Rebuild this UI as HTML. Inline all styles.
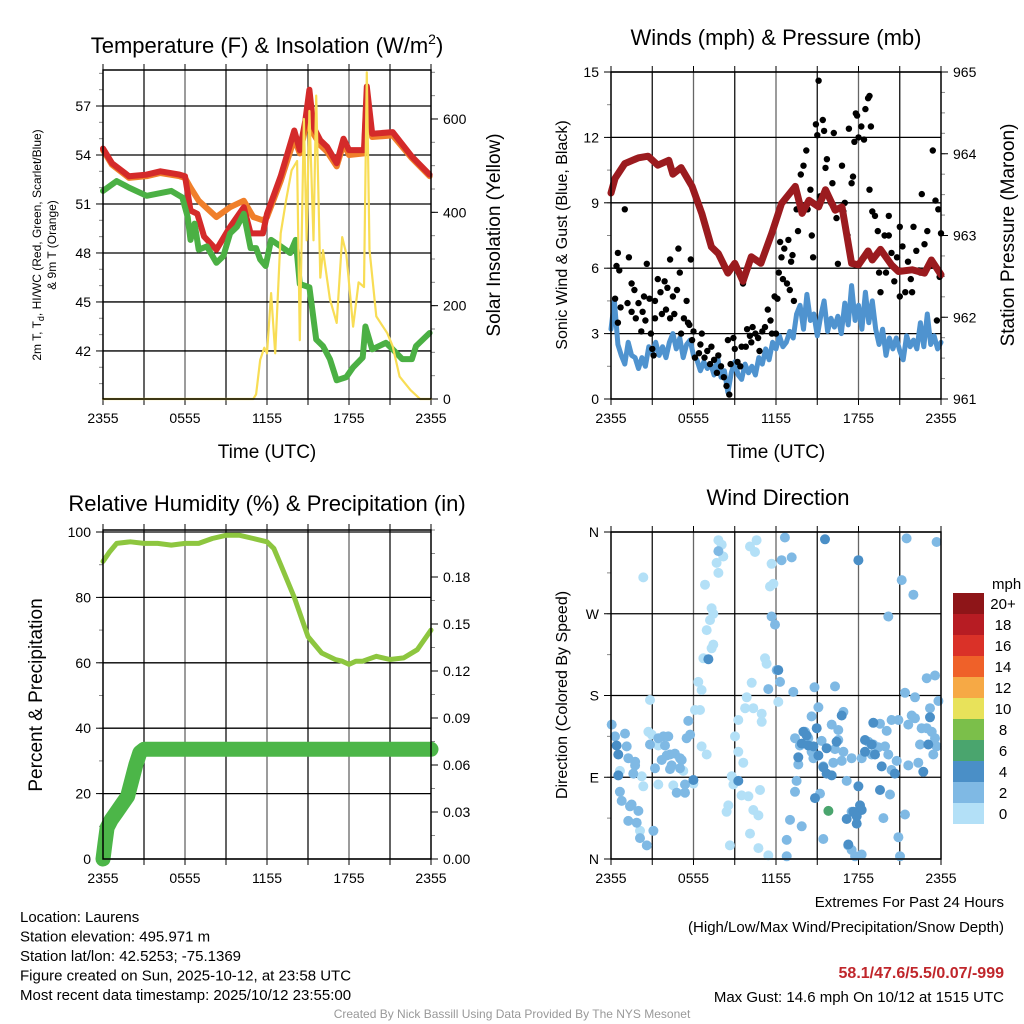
<!DOCTYPE html>
<html><head><meta charset="utf-8"><style>
html,body{margin:0;padding:0;background:#fff;}
svg{display:block;font-family:"Liberation Sans",sans-serif;}
</style></head><body>
<svg id="c" width="1024" height="1024" viewBox="0 0 1024 1024"></svg>
<script>
// ---------- DATA ----------
const xTickLabels=["2355","0555","1155","1755","2355"];
const xTickHours=[0,6,12,18,24];
// Panel 1: temperature
const tempHours=[0,0.66,1.9,3.2,4.2,5.6,6.0,6.4,6.9,7.4,8.3,9.3,10.3,10.8,11.7,12.0,13.0,14.0,14.4,14.8,15.1,15.4,15.9,16.4,17.1,17.6,18.0,19.1,19.3,19.7,21.2,22.6,23.9];
const tempVals=[54.4,53.5,52.7,52.8,53.0,52.8,52.7,50.6,50.4,49.0,48.2,49.6,50.8,49.2,49.2,50.4,52.7,55.5,54.3,56.1,58.0,55.7,54.9,54.5,53.5,55.0,54.3,54.3,58.2,55.3,55.4,53.9,52.8];
const nineHours=[0,0.66,1.9,3.2,4.2,5.6,6.0,6.4,7.0,8.3,9.3,10.3,11.0,11.7,12.0,13.0,14.0,14.4,14.8,15.1,15.4,15.9,16.4,17.1,17.6,18.0,19.1,19.3,19.7,21.2,22.6,23.9];
const nineVals=[54.3,53.4,52.6,52.7,52.9,52.7,52.6,52.0,51.2,50.2,50.8,51.2,50.2,50.0,50.2,52.4,55.0,54.1,55.6,57.2,55.3,54.6,54.2,53.3,54.7,54.0,54.1,57.8,55.1,55.2,53.8,52.7];
const dewHours=[0,1.0,1.9,3.2,5.0,5.8,6.2,6.4,6.7,7.0,7.6,8.3,8.8,9.3,9.8,10.3,10.8,11.2,11.5,11.9,12.3,13.0,13.7,14.1,14.4,15.1,15.6,16.1,16.6,17.1,17.8,18.3,19.0,19.2,19.7,20.7,21.2,21.9,22.6,22.9,23.9];
const dewVals=[51.8,52.4,52.0,51.5,51.8,51.4,50.2,48.8,49.8,48.2,48.4,47.4,47.8,49.2,49.6,50.4,48.3,48.3,47.6,47.2,48.8,48.4,48.0,48.8,46.1,45.9,42.7,42.3,41.5,40.2,40.4,41.0,41.6,43.5,42.1,42.5,42.1,41.5,41.5,42.3,43.1];
const solarHours=[0,11.0,11.2,11.5,11.8,12.0,12.3,12.6,13.0,13.4,13.8,14.2,14.4,14.7,14.9,15.1,15.4,15.6,15.9,16.1,16.6,17.1,17.5,17.8,18.3,18.7,19.1,19.3,19.5,20.0,20.8,21.2,21.7,22.5,23.2,24];
const solarVals=[0,0,10,84,110,98,227,98,355,426,490,510,126,600,340,617,340,650,260,319,214,163,347,311,155,250,240,700,320,177,141,113,48,19,0,0];
// Panel 2: wind & pressure
const sonicVals=[3.2,4.5,2.5,2.0, 1.6,2.6,2.0,1.9, 1.4,1.9,1.5,2.4, 2.1,2.6,2.0,2.4, 1.9,2.6,3.0,2.3, 2.8,1.9,2.5,2.7, 2.0,1.8,1.3,1.7, 1.4,1.6,1.1,1.9, 1.0,1.3,0.3,1.2, 1.7,1.1,0.9,1.6, 1.2,1.5,1.1,1.9, 1.6,2.3,1.8,2.6, 2.3,2.9,2.4,2.6, 3.1,2.8,3.9,4.3, 3.2,4.8,3.6,3.9, 2.9,3.8,4.5,3.1, 3.7,3.3,3.8,3.0, 4.4,3.4,5.2,3.6, 4.3,3.2,4.9,3.5, 4.5,3.2,2.5,3.2, 2.0,2.8,2.3,2.8, 2.2,1.8,2.9,2.4, 2.7,2.3,3.5,2.4, 3.9,2.5,2.9,2.3, 2.6];
const gustHours=[0.3,0.4,0.5,0.6,0.7,0.5,1.0,1.2,1.3,1.5,1.5,1.7,1.8,2.0,2.2,2.3,2.4,2.5,2.8,2.9,2.6,3.0,3.1,3.2,3.2,3.4,3.6,3.7,3.9,4.0,4.1,4.3,4.3,4.5,4.6,4.8,4.9,5.0,5.1,5.3,5.5,5.6,5.7,5.8,5.9,6.0,6.1,6.4,6.5,6.6,6.8,7.0,7.2,7.3,7.5,7.7,7.8,8.0,8.2,8.4,8.6,8.7,8.9,8.5,9.0,9.2,9.4,9.5,9.6,9.8,9.9,10.1,10.2,10.3,10.5,10.7,10.8,11.0,11.2,11.4,11.6,11.7,11.9,12.0,12.1,12.2,12.3,12.4,12.5,12.6,12.8,12.9,13.0,13.1,13.2,13.3,13.5,13.6,13.8,14.0,14.2,14.3,14.5,14.6,14.7,14.9,15.0,15.1,15.2,15.4,15.6,15.7,15.5,16.0,16.1,16.2,16.4,16.5,16.8,16.9,17.0,17.2,17.3,17.5,17.6,17.7,17.8,17.9,18.0,18.2,18.4,18.5,18.7,18.8,18.9,18.8,19.0,19.2,19.4,19.5,19.6,19.9,20.0,20.2,20.4,20.6,20.8,21.0,21.2,21.4,21.6,21.8,21.9,22.0,22.2,22.4,22.6,22.8,23.0,23.2,23.4,23.6,23.8,24.0,23.9,23.7,22.5,21.0,20.2];
const gustVals=[4.6,6.1,6.7,5.9,4.2,3.5,8.7,4.4,6.5,5.3,4.0,5.0,3.7,4.4,3.1,4.0,4.7,3.6,4.6,3.0,6.2,2.3,2.0,4.5,3.7,5.5,4.9,3.9,5.4,4.1,5.1,3.7,6.4,4.7,3.9,5.0,6.9,5.8,3.0,3.7,4.5,3.5,3.4,6.4,2.7,3.1,1.9,2.1,2.5,3.0,1.9,2.2,1.6,2.4,1.8,1.2,2.0,1.5,1.0,0.6,0.2,1.6,2.8,2.7,2.3,1.7,1.5,2.4,5.3,2.4,3.2,2.9,2.6,3.3,3.0,2.8,2.2,3.1,3.3,4.1,3.6,3.0,4.7,3.0,4.6,5.8,7.2,6.5,5.5,6.9,5.3,7.3,5.0,6.3,6.6,4.5,8.7,7.7,10.3,10.7,11.4,8.7,9.6,7.5,6.5,12.6,12.1,14.6,9.3,12.8,10.6,11.0,12.3,9.0,9.9,12.2,8.3,6.2,10.7,8.6,9.0,7.5,12.4,9.9,10.2,11.8,13.1,13.0,12.0,12.5,11.9,13.3,13.8,13.9,12.5,9.6,8.6,8.4,7.7,5.8,4.9,7.5,5.8,8.4,6.7,5.4,6.5,7.9,7.0,4.9,6.3,5.5,4.9,7.9,6.8,5.9,9.4,7.1,7.7,6.1,11.4,9.1,8.7,7.6,5.6,3.6,5.8,4.7,7.5];
const presHours=[0,0.3,1.0,2.0,2.7,3.4,4.2,4.5,5.1,5.9,6.6,7.3,7.8,8.5,9.0,9.6,10.2,10.9,11.7,12.4,13.4,13.9,14.4,15.1,15.6,16.3,16.8,17.5,18.0,18.7,19.0,19.6,20.4,20.9,21.9,22.8,23.3,24.0];
const presVals=[963.52,963.7,963.88,963.95,963.97,963.86,963.92,963.75,963.83,963.6,963.27,962.86,962.78,962.54,962.66,962.44,962.74,962.66,963.03,963.39,963.6,963.27,963.43,963.35,963.56,963.31,963.35,962.66,962.64,962.81,962.7,962.83,962.64,962.56,962.58,962.54,962.7,962.52];
// Panel 3: RH & precip
const rhHours=[0,0.5,1,2,3,4,5,6,7,8,9,10,11,12,12.5,13,14,15,16,17,17.5,18,18.5,19,20,21,22,23,24];
const rhVals=[91,94,96.5,97,96.5,96.5,96,96.5,96.5,98,99,99,98,97,95,90,80,68,63,61,60.5,59.5,60.5,60.5,62,61,61.5,64,70];
const precipHours=[0,0.15,0.3,0.6,1.0,1.4,1.8,2.1,2.4,2.7,3.0,24];
const precipVals=[0,0.01,0.02,0.025,0.03,0.035,0.04,0.05,0.06,0.068,0.07,0.07];
// Panel 4: wind direction by speed class
const dirHours0=[2.35,6.84,7.81,8.05,8.17,7.68,7.81,7.32,7.44,7.20,6.96,7.32,7.44,6.72,6.35,6.59,6.11,6.47,2.72,2.96,3.44,2.84,6.59,6.96,9.02,9.26,9.75,10.35,10.96,10.96,9.87,10.23,11.2,11.32,11.56,11.81,11.68,10.59,10.11,10.47,8.9,8.53,8.41,9.5,9.99,10.35,10.72,10.84,10.11,8.65,10.72,11.44,8.78,2.35,2.11,2.23,3.44,4.53,5.99,9.62,9.26,12.17,0.65,5.26];
const dirVals0=[310,302,351,346,333,326,315,276,270,263,252,232,236,221,195,186,164,164,140,137,125,175,124,115,135,153,166,166,160,151,178,194,221,215,300,303,325,351,344,338,82,59,52,70,69,54,48,76,28,15,12,4,91,80,31,91,82,81,83,106,118,173,97,97];
const dirHours2=[0.05,0.29,1.02,1.14,1.26,1.75,1.75,1.62,0.65,0.78,1.38,1.5,1.99,1.26,1.87,2.11,2.6,3.08,3.44,3.81,4.17,3.93,4.05,3.69,4.29,4.65,5.02,5.14,4.41,4.29,5.02,4.78,5.38,5.38,5.62,5.75,5.5,3.2,2.84,7.81,11.68,11.93,12.05,12.29,11.44,12.65,12.41,13.14,13.26,14.8,16.29,15.08,14.59,14.11,13.74,13.38,14.35,14.59,14.84,15.32,16.05,16.53,16.9,16.53,16.29,16.9,17.5,16.17,16.78,15.44,14.72,13.62,13.5,13.38,13.02,13.87,12.78,12.78,15.44,15.2,17.26,17.5,17.75,18.23,17.14,17.5,19.81,20.29,21.38,20.9,21.02,20.17,21.14,21.99,21.5,23.68,22.96,23.56,21.38,22.11,23.2,23.81,21.87,22.11,21.62,20.41,20.9,19.56,20.05,22.59,22.96,23.32,23.56,22.47,23.68,23.44,22.35,21.62,20.78,20.41,19.93,19.44,20.17,18.96,18.23,18.72,19.08];
const dirVals2=[148,135,138,124,111,107,103,94,74,64,58,60,53,42,40,23,15,31,133,135,135,125,114,109,115,116,111,109,103,99,100,73,73,82,152,137,133,100,126,339,267,258,208,195,187,354,329,332,184,189,190,167,157,140,125,133,133,118,114,130,148,142,162,131,121,118,111,106,108,102,111,104,86,74,43,36,21,3,22,72,15,10,3,5,86,52,45,71,49,24,3,267,307,291,353,349,199,202,183,178,166,174,158,155,148,153,153,149,141,144,144,140,133,126,124,115,106,103,108,98,124,123,115,115,111,129,126];
const dirHours4=[0.41,0.53,0.53,5.99,7.08,15.56,17.99,13.99,14.23,14.96,13.87,14.35,14.72,15.08,13.62,15.68,16.41,16.78,15.44,15.68,16.05,14.84,17.99,18.11,18.23,17.62,17.87,17.14,17.87,17.26,18.47,18.96,19.2,18.47,19.08,19.69,19.56,20.65,22.71,23.08,23.2,12.17,9.26];
const dirVals4=[125,115,92,87,220,352,329,140,136,144,127,125,124,114,112,122,129,158,101,94,92,67,80,59,54,52,47,44,39,16,131,126,115,118,150,102,76,94,96,126,156,208,86];
const dirHours6=[15.81];
const dirVals6=[53];
const cbLabels=["20+","18","16","14","12","10","8","6","4","2","0"];
const cbColors=["#8e1518","#b71c23","#da3128","#ef6129","#f6a945","#e8e25a","#7bbf4a","#4aa56e","#4a8fc7","#7fb9e4","#b3e0f7"];

// ---------- DRAW ----------
const NS="http://www.w3.org/2000/svg";
const svg=document.getElementById('c');
function mk(tag,attrs,parent){const e=document.createElementNS(NS,tag);for(const k in attrs)e.setAttribute(k,attrs[k]);(parent||svg).appendChild(e);return e;}
function txt(x,y,s,size,anchor,parent,extra){const t=mk('text',Object.assign({x:x,y:y,'font-size':size,'text-anchor':anchor||'middle',fill:'#000'},extra||{}),parent);t.textContent=s;return t;}
function group(name){const g=mk('g',{});return g;}
function poly(xs,ys,fx,fy,color,w,parent,name){let d='';for(let i=0;i<xs.length;i++){d+=(i?'L':'M')+fx(xs[i]).toFixed(1)+' '+fy(ys[i]).toFixed(1);}const p=mk('path',{d:d,fill:'none',stroke:color,'stroke-width':w,'stroke-linejoin':'round','stroke-linecap':'round'},parent);return p;}

function frame(P,g){
  for(let h=3;h<24;h+=3){const x=P.fx(h);mk('line',{x1:x,x2:x,y1:P.y0,y2:P.y1,stroke:(h%6==0)?'#666':'#111','stroke-width':1.3},g);}
  for(let h=0;h<=24;h+=3){const x=P.fx(h);mk('line',{x1:x,x2:x,y1:P.y1,y2:P.y1+6,stroke:'#000','stroke-width':1},g);mk('line',{x1:x,x2:x,y1:P.y0,y2:P.y0-6,stroke:'#000','stroke-width':1},g);}
  for(let i=0;i<xTickLabels.length;i++){const t=txt(P.fx(xTickHours[i]),P.y1+24,xTickLabels[i],14,'middle',g);}
}
function border(P,g){const r=mk('rect',{x:P.x0,y:P.y0,width:P.x1-P.x0,height:P.y1-P.y0,fill:'none',stroke:'#000','stroke-width':1.5},g);}
function leftAxis(P,fy,ticks,labels,minor,g,grid){
  for(const m of minor){mk('line',{x1:P.x0-4,x2:P.x0,y1:fy(m),y2:fy(m),stroke:'#888','stroke-width':1},g);}
  ticks.forEach((v,i)=>{const y=fy(v);if(grid)mk('line',{x1:P.x0,x2:P.x1,y1:y,y2:y,stroke:'#000','stroke-width':1.3},g);mk('line',{x1:P.x0-7,x2:P.x0,y1:y,y2:y,stroke:'#000','stroke-width':1},g);const t=txt(P.x0-12,y+5,labels[i],14,'end',g);});
}
function rightAxis(P,fy,ticks,labels,minor,g){
  for(const m of minor){mk('line',{x1:P.x1,x2:P.x1+4,y1:fy(m),y2:fy(m),stroke:'#888','stroke-width':1},g);}
  ticks.forEach((v,i)=>{const y=fy(v);mk('line',{x1:P.x1,x2:P.x1+7,y1:y,y2:y,stroke:'#000','stroke-width':1},g);const t=txt(P.x1+12,y+5,labels[i],14,'start',g);});
}
function range(a,b,s){const r=[];for(let v=a;v<=b+1e-9;v+=s)r.push(+v.toFixed(4));return r;}

// Panel 1
{
const g=group('temperature-panel');
const P={x0:103,x1:431,y0:70,y1:399};P.fx=h=>103+h*328/24;
const fyL=v=>106+(57-v)*16.33, fyR=v=>399-v*0.4667;
frame(P,g);
leftAxis(P,fyL,[42,45,48,51,54,57],["42","45","48","51","54","57"],range(40,59,1),g,true);
rightAxis(P,fyR,[0,200,400,600],["0","200","400","600"],range(0,700,50),g);
poly(nineHours,nineVals,P.fx,fyL,'#f07f2a',6,g,'9m-temperature-line');
poly(tempHours,tempVals,P.fx,fyL,'#d42a2a',6,g,'2m-temperature-line');
poly(dewHours,dewVals,P.fx,fyL,'#4bb044',6,g,'dewpoint-line');
poly(solarHours,solarVals,P.fx,fyR,'#f8dd55',2.2,g,'solar-insolation-line');
border(P,g);
const t=mk('text',{x:267,y:53,'font-size':22,'text-anchor':'middle'},g);t.innerHTML='Temperature (F) &amp; Insolation (W/m<tspan dy="-9" font-size="14">2</tspan><tspan dy="9">)</tspan>';

let a=txt(267,458,'Time (UTC)',19,'middle',g);
a=txt(0,0,'2m T, T',12,'middle',g,{transform:'translate(41,245) rotate(-90)'});a.innerHTML='2m T, T<tspan dy="3" font-size="9">d</tspan><tspan dy="-3">, HI/WC (Red, Green, Scarlet/Blue)</tspan>';
a=txt(0,0,'& 9m T (Orange)',12,'middle',g,{transform:'translate(56,245) rotate(-90)'});
a=txt(0,0,'Solar Insolation (Yellow)',19,'middle',g,{transform:'translate(500,235) rotate(-90)'});
}
// Panel 2
{
const g=group('wind-pressure-panel');
const P={x0:611,x1:941,y0:72,y1:399};P.fx=h=>611+h*330/24;
const fyL=v=>399-v*21.8, fyR=p=>399-(p-961)*81.75;
frame(P,g);
leftAxis(P,fyL,[0,3,6,9,12,15],["0","3","6","9","12","15"],range(0,15,1.5),g,true);
rightAxis(P,fyR,[961,962,963,964,965],["961","962","963","964","965"],range(961,965,0.25),g);
const sh=sonicVals.map((v,i)=>i*0.25);
poly(sh,sonicVals,P.fx,fyL,'#4f93cf',5,g,'sonic-wind-line');
for(let i=0;i<gustHours.length;i++){const c=mk('circle',{cx:P.fx(gustHours[i]).toFixed(1),cy:fyL(gustVals[i]).toFixed(1),r:3.2,fill:'#000'},g);

}
poly(presHours,presVals,P.fx,fyR,'#9b1b1f',7,g,'pressure-line');
border(P,g);
let a=txt(776,45,'Winds (mph) & Pressure (mb)',22,'middle',g);
a=txt(776,458,'Time (UTC)',19,'middle',g);
a=txt(0,0,'Sonic Wind & Gust (Blue, Black)',16,'middle',g,{transform:'translate(567,235) rotate(-90)'});
a=txt(0,0,'Station Pressure (Maroon)',19,'middle',g,{transform:'translate(1014,235) rotate(-90)'});
}
// Panel 3
{
const g=group('humidity-panel');
const P={x0:103,x1:431,y0:530,y1:859};P.fx=h=>103+h*328/24;
const fyL=v=>859-v*3.27, fyR=v=>859-v*1566.7;
frame(P,g);
leftAxis(P,fyL,[0,20,40,60,80,100],["0","20","40","60","80","100"],range(0,100,10),g,true);
rightAxis(P,fyR,[0,0.03,0.06,0.09,0.12,0.15,0.18],["0.00","0.03","0.06","0.09","0.12","0.15","0.18"],range(0,0.21,0.015),g);
poly(rhHours,rhVals,P.fx,fyL,'#8dc63f',5,g,'relative-humidity-line');
poly(precipHours,precipVals,P.fx,fyR,'#4cb648',15,g,'precipitation-line');
border(P,g);
let a=txt(267,511,'Relative Humidity (%) & Precipitation (in)',22,'middle',g);
a=txt(0,0,'Percent & Precipitation',19,'middle',g,{transform:'translate(42,695) rotate(-90)'});
}
// Panel 4
{
const g=group('wind-direction-panel');
const P={x0:611,x1:941,y0:532,y1:859};P.fx=h=>611+h*330/24;
const fy=d=>859-Math.min(d,360)*327/360;
frame(P,g);
leftAxis(P,fy,[0,90,180,270,360],["N","E","S","W","N"],range(0,360,45),g,true);
const spC=s=>cbColors[10-Math.min(10,Math.floor(s/2))];
const sets=[[dirHours0,dirVals0,0],[dirHours2,dirVals2,2],[dirHours4,dirVals4,4],[dirHours6,dirVals6,6]];
for(const [hs,ds,sp] of sets){
for(let i=0;i<hs.length;i++){const c=mk('circle',{cx:P.fx(hs[i]).toFixed(1),cy:fy(ds[i]).toFixed(1),r:5,fill:spC(sp)},g);

}
}
border(P,g);
let a=txt(778,505,'Wind Direction',22,'middle',g);
a=txt(0,0,'Direction (Colored By Speed)',16,'middle',g,{transform:'translate(567,695) rotate(-90)'});
const cb=group('speed-colorbar');
a=txt(992,589,'mph',15,'start',cb);
cbColors.forEach((c,i)=>{const r=mk('rect',{x:953,y:593+i*21,width:31,height:21,fill:c},cb);


const t=txt(1003,609+i*21,cbLabels[i],15,'middle',cb);

});
}
// Footer text
{
const g=group('station-info');
["Location: Laurens","Station elevation: 495.971 m","Station lat/lon: 42.5253; -75.1369","Figure created on Sun, 2025-10-12, at 23:58 UTC","Most recent data timestamp: 2025/10/12 23:55:00"].forEach((s,i)=>{const t=txt(20,922+i*19.5,s,15,'start',g);});
const g2=group('extremes-info');
let t=txt(1004,907,'Extremes For Past 24 Hours',15,'end',g2);
t=txt(1004,932,'(High/Low/Max Wind/Precipitation/Snow Depth)',15,'end',g2);
t=txt(1004,978,'58.1/47.6/5.5/0.07/-999',16,'end',g2,{fill:'#c0262b','font-weight':'bold'});
t=txt(1004,1002,'Max Gust: 14.6 mph On 10/12 at 1515 UTC',15,'end',g2);
t=txt(512,1018,'Created By Nick Bassill Using Data Provided By The NYS Mesonet',12,'middle',svg,{fill:'#999'});
}
</script>
</body></html>
